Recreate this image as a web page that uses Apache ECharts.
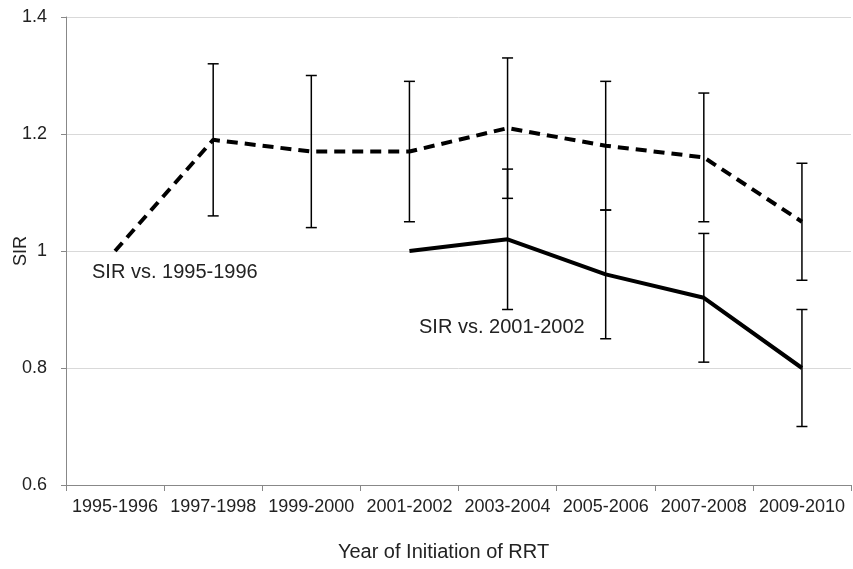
<!DOCTYPE html>
<html>
<head>
<meta charset="utf-8">
<script src="https://cdn.jsdelivr.net/npm/echarts@6/dist/echarts.min.js"></script>
<style>
  html, body { margin: 0; padding: 0; background: #fff; }
  #chart { width: 853px; height: 569px; }
</style>
</head>
<body>
<div id="chart"></div>
<script>
// Periods of RRT initiation
var periods = ['1995-1996', '1997-1998', '1999-2000', '2001-2002', '2003-2004', '2005-2006', '2007-2008', '2009-2010'];

// SIR relative to 1995-1996 (dashed line) with 95% CI bounds
var sirVs1995 = [1.00, 1.19, 1.17, 1.17, 1.21, 1.18, 1.16, 1.05];
var lowVs1995 = [null, 1.06, 1.04, 1.05, 1.09, 1.07, 1.05, 0.95];
var highVs1995 = [null, 1.32, 1.30, 1.29, 1.33, 1.29, 1.27, 1.15];

// SIR relative to 2001-2002 (solid line) with 95% CI bounds
var sirVs2001 = [null, null, null, 1.00, 1.02, 0.96, 0.92, 0.80];
var lowVs2001 = [null, null, null, null, 0.90, 0.85, 0.81, 0.70];
var highVs2001 = [null, null, null, null, 1.14, 1.07, 1.03, 0.90];

// y-axis ticks
var yMin = 0.6, yMax = 1.4, yStep = 0.2;

function ciData(low, high) {
  var out = [];
  for (var i = 0; i < periods.length; i++) {
    if (low[i] != null && high[i] != null) out.push([i, low[i], high[i]]);
  }
  return out;
}

function renderErrorBar(params, api) {
  var x = api.value(0);
  var lo = api.coord([x, api.value(1)]);
  var hi = api.coord([x, api.value(2)]);
  var half = 5.5;
  var style = { stroke: '#000', lineWidth: 1.5 };
  return {
    type: 'group',
    children: [
      { type: 'line', shape: { x1: lo[0], y1: hi[1], x2: lo[0], y2: lo[1] }, style: style },
      { type: 'line', shape: { x1: lo[0] - half, y1: hi[1], x2: lo[0] + half, y2: hi[1] }, style: style },
      { type: 'line', shape: { x1: lo[0] - half, y1: lo[1], x2: lo[0] + half, y2: lo[1] }, style: style }
    ]
  };
}

var font = 'Liberation Sans, Arial, sans-serif';
var chart = echarts.init(document.getElementById('chart'), null, { renderer: 'canvas' });

chart.setOption({
  animation: false,
  backgroundColor: '#fff',
  grid: { left: 66, right: 2, top: 17, bottom: 84, containLabel: false, outerBoundsMode: 'none' },
  xAxis: {
    type: 'category',
    data: periods,
    boundaryGap: true,
    name: 'Year of Initiation of RRT',
    nameLocation: 'middle',
    nameGap: 57,
    nameMoveOverlap: false,
    nameTextStyle: { fontFamily: font, fontSize: 20, color: '#222', padding: [0, 30, 0, 0] },
    axisLine: { lineStyle: { color: '#888', width: 1 } },
    axisTick: { show: true, length: 6, lineStyle: { color: '#888' } },
    axisLabel: { fontFamily: font, fontSize: 18, color: '#222', margin: 13, interval: 0 },
    splitLine: { show: false }
  },
  yAxis: {
    type: 'value',
    min: yMin,
    max: yMax,
    interval: yStep,
    name: 'SIR',
    nameLocation: 'middle',
    nameGap: 36,
    nameMoveOverlap: false,
    nameTextStyle: { fontFamily: font, fontSize: 18, color: '#222' },
    axisLine: { show: true, lineStyle: { color: '#888', width: 1 } },
    axisTick: { show: true, length: 5, lineStyle: { color: '#888' } },
    axisLabel: {
      fontFamily: font, fontSize: 18, color: '#222', margin: 19,
      formatter: function (v) { return String(Math.round(v * 10) / 10); }
    },
    splitLine: { show: true, lineStyle: { color: '#d9d9d9', width: 1 } }
  },
  series: [
    {
      name: 'CI vs 1995-1996',
      type: 'custom',
      renderItem: renderErrorBar,
      data: ciData(lowVs1995, highVs1995),
      encode: { x: 0, y: [1, 2] },
      z: 2,
      silent: true
    },
    {
      name: 'CI vs 2001-2002',
      type: 'custom',
      renderItem: renderErrorBar,
      data: ciData(lowVs2001, highVs2001),
      encode: { x: 0, y: [1, 2] },
      z: 2,
      silent: true
    },
    {
      name: 'SIR vs. 1995-1996',
      type: 'line',
      data: sirVs1995,
      showSymbol: false,
      symbol: 'none',
      lineStyle: { color: '#000', width: 4, type: [11, 7] },
      z: 3
    },
    {
      name: 'SIR vs. 2001-2002',
      type: 'line',
      data: sirVs2001,
      showSymbol: false,
      symbol: 'none',
      connectNulls: false,
      lineStyle: { color: '#000', width: 4, type: 'solid' },
      z: 3
    }
  ],
  graphic: [
    {
      type: 'text', left: 92, top: 262,
      style: { text: 'SIR vs. 1995-1996', font: '20px ' + font, fill: '#222' }
    },
    {
      type: 'text', left: 419, top: 317,
      style: { text: 'SIR vs. 2001-2002', font: '20px ' + font, fill: '#222' }
    }
  ]
});
</script>
</body>
</html>
